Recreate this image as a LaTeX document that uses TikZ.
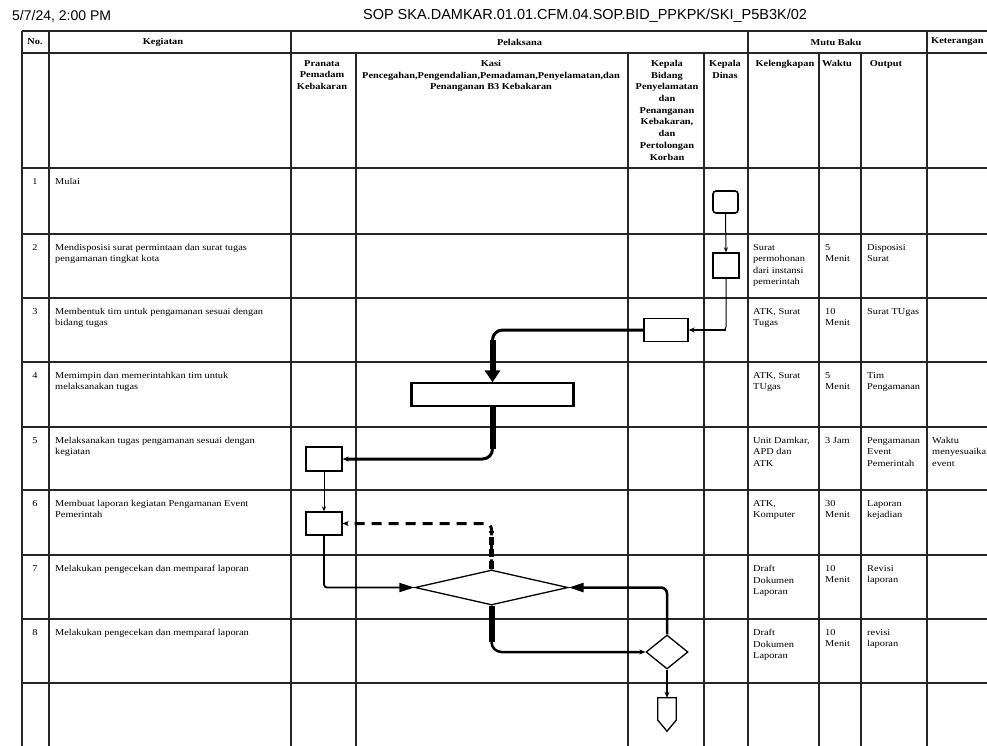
\documentclass[tikz,border=0pt]{standalone}
\usepackage{fontspec}
\setmainfont{Liberation Serif}[FakeStretch=1.15]
\newfontfamily\topfont{Liberation Sans}
\usetikzlibrary{arrows.meta,shapes.geometric,calc}
\begin{document}
\begin{tikzpicture}[x=1pt,y=-1pt,
  grid/.style={line width=1.1pt, black!85},
  hdr/.style={font=\fontsize{9}{11.7}\selectfont\bfseries, inner sep=0, align=center},
  hdrtop/.style={hdr, anchor=north},
  body/.style={font=\fontsize{9}{11.5}\selectfont, inner sep=0, align=left, anchor=north west},
  num/.style={font=\fontsize{9}{11.5}\selectfont, inner sep=0, anchor=north},
  procbox/.style={draw, line width=1.3pt, rectangle, inner sep=0},
  decbox/.style={draw, line width=1.3pt, diamond, inner sep=0},
  thinarrow/.style={draw, line width=1pt, -{Stealth[length=5pt,width=4pt]}},
  bigtip/.style={-{Triangle[length=15pt,width=9pt]}},
  smalltip/.style={-{Stealth[length=6pt,width=5pt]}}
]
\useasboundingbox (0,0) rectangle (987,745);
\fill[white] (0,0) rectangle (987,745);
\clip (0,0) rectangle (987,745);

% ---------- top line ----------
\node[font=\topfont\fontsize{14}{16}\selectfont, anchor=west, inner sep=0] (date) at (12,16) {5/7/24, 2:00 PM};
\node[font=\topfont\fontsize{14.5}{16}\selectfont, inner sep=0] (title) at (585,16) {SOP SKA.DAMKAR.01.01.CFM.04.SOP.BID\_PPKPK/SKI\_P5B3K/02};

% ---------- grid ----------
\foreach \yy in {31,53,168,234,298,362,427,490,555,619,683}
  \draw[grid] (22,\yy) -- (1010,\yy);
\foreach \xx in {22,49,291,748,927}
  \draw[grid] (\xx,31) -- (\xx,760);
\foreach \xx in {356,628,704,819,861}
  \draw[grid] (\xx,53) -- (\xx,760);

% ---------- header ----------
\node[hdr] (hno) at (35,42) {No.};
\node[hdr] (hkeg) at (163,42) {Kegiatan};
\node[hdr] (hpel) at (519.5,42) {Pelaksana};
\node[hdr] (hmutu) at (836,42) {Mutu Baku};
\node[hdr, anchor=west] (hket) at (931,42) {Keterangan};

\node[hdrtop] (hpra) at (322,60) {Pranata\\Pemadam\\Kebakaran};
\node[hdrtop] (hkasi) at (491,60) {Kasi\\Pencegahan,Pengendalian,Pemadaman,Penyelamatan,dan\\Penanganan B3 Kebakaran};
\node[hdrtop] (hkabid) at (667,60) {Kepala\\Bidang\\Penyelamatan\\dan\\Penanganan\\Kebakaran,\\dan\\Pertolongan\\Korban};
\node[hdrtop] (hkadis) at (725,60) {Kepala\\Dinas};
\node[hdrtop] (hkel) at (785,60) {Kelengkapan};
\node[hdrtop] (hwak) at (837,60) {Waktu};
\node[hdrtop] (hout) at (886,60) {Output};

% ---------- rows ----------
% row 1
\node[num] (n1) at (35,178) {1};
\node[body] (k1) at (55,178) {Mulai};
% row 2
\node[num] (n2) at (35,244) {2};
\node[body] (k2) at (55,244) {Mendisposisi surat permintaan dan surat tugas\\pengamanan tingkat kota};
\node[body] (l2) at (753,244) {Surat\\permohonan\\dari instansi\\pemerintah};
\node[body] (w2) at (825,244) {5\\Menit};
\node[body] (o2) at (867,244) {Disposisi\\Surat};
% row 3
\node[num] (n3) at (35,308) {3};
\node[body] (k3) at (55,308) {Membentuk tim untuk pengamanan sesuai dengan\\bidang tugas};
\node[body] (l3) at (753,308) {ATK, Surat\\Tugas};
\node[body] (w3) at (825,308) {10\\Menit};
\node[body] (o3) at (867,308) {Surat TUgas};
% row 4
\node[num] (n4) at (35,372) {4};
\node[body] (k4) at (55,372) {Memimpin dan memerintahkan tim untuk\\melaksanakan tugas};
\node[body] (l4) at (753,372) {ATK, Surat\\TUgas};
\node[body] (w4) at (825,372) {5\\Menit};
\node[body] (o4) at (867,372) {Tim\\Pengamanan};
% row 5
\node[num] (n5) at (35,437) {5};
\node[body] (k5) at (55,437) {Melaksanakan tugas pengamanan sesuai dengan\\kegiatan};
\node[body] (l5) at (753,437) {Unit Damkar,\\APD dan\\ATK};
\node[body] (w5) at (825,437) {3 Jam};
\node[body] (o5) at (867,437) {Pengamanan\\Event\\Pemerintah};
\node[body] (e5) at (932,437) {Waktu\\menyesuaikan\\event};
% row 6
\node[num] (n6) at (35,500) {6};
\node[body] (k6) at (55,500) {Membuat laporan kegiatan Pengamanan Event\\Pemerintah};
\node[body] (l6) at (753,500) {ATK,\\Komputer};
\node[body] (w6) at (825,500) {30\\Menit};
\node[body] (o6) at (867,500) {Laporan\\kejadian};
% row 7
\node[num] (n7) at (35,565) {7};
\node[body] (k7) at (55,565) {Melakukan pengecekan dan memparaf laporan};
\node[body] (l7) at (753,565) {Draft\\Dokumen\\Laporan};
\node[body] (w7) at (825,565) {10\\Menit};
\node[body] (o7) at (867,565) {Revisi\\laporan};
% row 8
\node[num] (n8) at (35,629) {8};
\node[body] (k8) at (55,629) {Melakukan pengecekan dan memparaf laporan};
\node[body] (l8) at (753,629) {Draft\\Dokumen\\Laporan};
\node[body] (w8) at (825,629) {10\\Menit};
\node[body] (o8) at (867,629) {revisi\\laporan};

% ---------- flowchart shapes ----------
\node[procbox, rounded corners=3pt, line width=1.6pt, minimum width=25pt, minimum height=22pt] (start) at (725.5,202) {};
\node[procbox, minimum width=26pt, minimum height=25pt] (b2) at (726,265.5) {};
\node[procbox, minimum width=44pt, minimum height=23pt] (b3) at (666,330) {};
\node[procbox, minimum width=161pt, minimum height=23pt] (b4) at (492.5,394.5) {};
\draw[line width=3.5pt] (b4.north west) -- (b4.south west);
\draw[line width=3.5pt] (b4.north east) -- (b4.south east);
\node[procbox, minimum width=36pt, minimum height=24pt] (b5) at (324,459) {};
\node[procbox, minimum width=36pt, minimum height=23pt] (b6) at (324,523.5) {};
\node[decbox, minimum width=153pt, minimum height=35pt] (d7) at (491.5,587.5) {};
\node[decbox, minimum width=42pt, minimum height=34pt] (d8) at (667,652) {};
\node[inner sep=0, minimum width=18pt, minimum height=33pt] (endc) at (667,714.5) {};
\draw[line width=1.3pt] (endc.north west) -- (endc.north east) -- ($(endc.south east)+(0,-11)$) -- (endc.south) -- ($(endc.south west)+(0,-11)$) -- cycle;

% ---------- connectors ----------
\coordinate (c2) at (b2.south |- b3.east);
\coordinate (c3) at (b4.north |- b3.west);
\coordinate (c4) at (b4.south |- b5.east);
\coordinate (c7) at (d7.north |- b6.east);
\coordinate (c8) at (d7.south |- d8.west);

% start -> b2
\draw[thinarrow] (start.south) -- (b2.north);
% b2 -> b3
\draw[line width=1pt, rounded corners=3pt] (b2.south) |- ($(c2)+(-6,0)$);
\draw[line width=2.2pt, smalltip] (c2) -- (b3.east);
% b3 -> b4
\draw[line width=3pt, rounded corners=10pt, -{Triangle[length=12pt,width=15pt]}] (b3.west) -| (b4.north);
\draw[line width=6pt] ($(c3)+(0,10)$) -- ($(b4.north)+(0,-11)$);
% b4 -> b5
\draw[line width=3pt, rounded corners=10pt, smalltip] (b4.south) |- (b5.east);
\draw[line width=6pt] (b4.south) -- ($(c4)+(0,-10)$);
% b5 -> b6
\draw[thinarrow] (b5.south) -- (b6.north);
% b6 -> d7
\draw[line width=1.8pt, rounded corners=3pt, bigtip] (b6.south) |- (d7.west);
% d7 -> b6 (dashed)
\draw[line width=3pt, dash pattern=on 10pt off 7pt, rounded corners=6pt, smalltip] (d7.north) |- (b6.east);
\draw[line width=5pt, dash pattern=on 8pt off 4pt] (d7.north) -- ($(c7)+(0,7)$);
% d7 -> d8
\draw[line width=2.5pt, rounded corners=10pt, smalltip] (d7.south) |- (d8.west);
\draw[line width=6pt] (d7.south) -- ($(c8)+(0,-10)$);
% d8 -> d7
\draw[line width=2.5pt, rounded corners=6pt, bigtip] (d8.north) |- (d7.east);
% d8 -> end
\draw[line width=1.5pt, smalltip] (d8.south) -- (endc.north);
\end{tikzpicture}
\end{document}
